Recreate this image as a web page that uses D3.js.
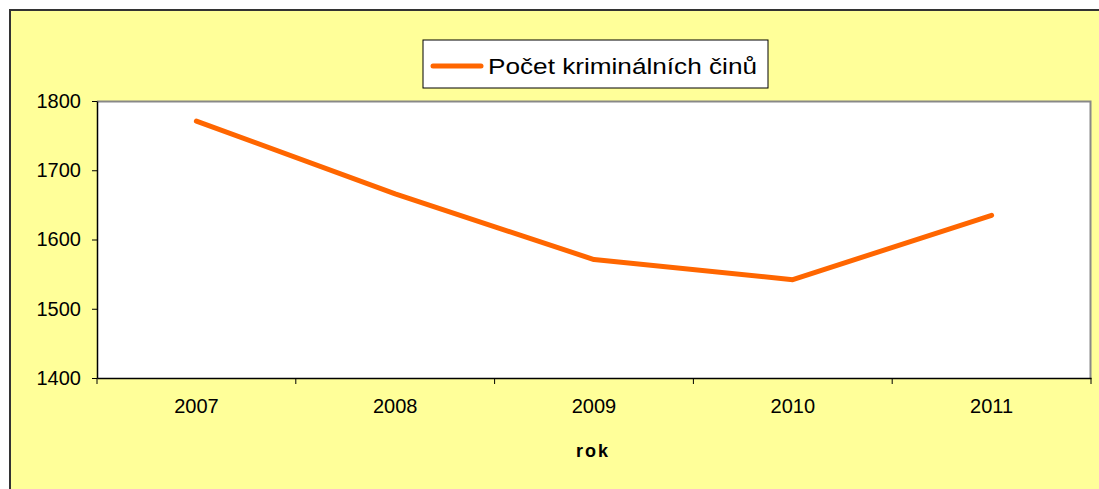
<!DOCTYPE html>
<html>
<head>
<meta charset="utf-8">
<script src="https://cdn.jsdelivr.net/npm/d3@7"></script>
<style>
body { margin: 0; background: #fff; }
svg text { font-family: "Liberation Sans", Arial, sans-serif; fill: #000; }
</style>
</head>
<body>
<div class="canva"></div>
<script>
// Line chart - pocet kriminalnich cinu
const years = ['2007', '2008', '2009', '2010', '2011'];
const values = [1771, 1666, 1571, 1542, 1635];
const yTicks = [1400, 1500, 1600, 1700, 1800];
const seriesName = 'Počet kriminálních činů';
const xTitle = 'rok';

const width = 1099, height = 489;
const margin = {top: 101, right: 8, bottom: 111, left: 97};
const graphWidth = width - margin.left - margin.right;
const graphHeight = height - margin.top - margin.bottom;

const svg = d3.select('.canva').append('svg')
    .attr('width', width)
    .attr('height', height);

// outer chart frame
svg.append('rect')
    .attr('x', 10).attr('y', 10)
    .attr('width', 1100).attr('height', 490)
    .attr('fill', '#FFFF99')
    .attr('stroke', '#333')
    .attr('stroke-width', 2);

const mainCanvas = svg.append('g')
    .attr('transform', `translate(${margin.left},${margin.top})`);

// scales
const x = d3.scaleBand()
    .domain(years)
    .range([0, graphWidth]);

const y = d3.scaleLinear()
    .domain([1400, 1800])
    .range([graphHeight, 0]);

// plot area
mainCanvas.append('rect')
    .attr('width', graphWidth)
    .attr('height', graphHeight)
    .attr('fill', '#fff');

mainCanvas.append('path')
    .attr('d', `M0,0.5H${graphWidth - 0.5}V${graphHeight}`)
    .attr('fill', 'none')
    .attr('stroke', '#888')
    .attr('stroke-width', 2);

// axes
const yAxis = d3.axisLeft(y)
    .tickValues(yTicks)
    .tickFormat(d3.format('d'))
    .tickSize(5)
    .tickPadding(11)
    .tickSizeOuter(0);

const yG = mainCanvas.append('g').call(yAxis);
yG.selectAll('text').style('font-size', '20px');

const xAxis = d3.axisBottom(x)
    .tickSize(0)
    .tickPadding(21);

const xG = mainCanvas.append('g')
    .attr('transform', `translate(0,${graphHeight})`)
    .call(xAxis);
xG.selectAll('text').style('font-size', '20px');

// category boundary ticks
xG.selectAll('.sep')
    .data(years.concat(['end']))
    .enter().append('line')
    .attr('class', 'sep')
    .attr('x1', (d, i) => i * x.bandwidth())
    .attr('x2', (d, i) => i * x.bandwidth())
    .attr('y1', 0).attr('y2', 6)
    .attr('stroke', '#000');

[yG, xG].forEach(g => g.select('.domain').attr('stroke', '#000').attr('stroke-width', 1.5));

// axis title
svg.append('text')
    .attr('x', margin.left + graphWidth / 2 - 1)
    .attr('y', 457)
    .attr('text-anchor', 'middle')
    .style('font-size', '18px')
    .style('font-weight', 'bold')
    .style('letter-spacing', '2px')
    .text(xTitle);

// line
const valueLine = d3.line()
    .x((d, i) => x(years[i]) + x.bandwidth() / 2)
    .y(d => y(d));

mainCanvas.append('path')
    .datum(values)
    .attr('fill', 'none')
    .attr('stroke', '#FF6600')
    .attr('stroke-width', 5)
    .attr('stroke-linejoin', 'round')
    .attr('stroke-linecap', 'round')
    .attr('d', valueLine);

// legend
const legend = svg.append('g').attr('transform', 'translate(423,40)');
legend.append('rect')
    .attr('width', 345).attr('height', 48)
    .attr('fill', '#fff')
    .attr('stroke', '#000')
    .attr('stroke-width', 1);
legend.append('line')
    .attr('x1', 10).attr('x2', 58)
    .attr('y1', 26).attr('y2', 26)
    .attr('stroke', '#FF6600')
    .attr('stroke-width', 5)
    .attr('stroke-linecap', 'round');
legend.append('text')
    .attr('x', 65).attr('y', 34)
    .attr('textLength', 269)
    .attr('lengthAdjust', 'spacingAndGlyphs')
    .style('font-size', '22px')
    .text(seriesName);
</script>
</body>
</html>
